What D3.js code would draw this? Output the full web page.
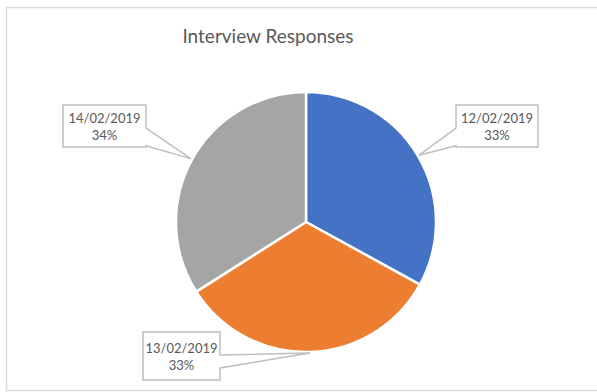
<!DOCTYPE html>
<html>
<head>
<meta charset="utf-8">
<script src="https://cdn.jsdelivr.net/npm/d3@7"></script>
<style>
  html, body { margin: 0; padding: 0; background: #ffffff; }
  svg { display: block; }
</style>
</head>
<body>
<svg id="chart" width="597" height="392"></svg>
<script>
// Interview responses per day
const categories = ["12/02/2019", "13/02/2019", "14/02/2019"];
const values = [33, 33, 34];
const colors = ["#4472C4", "#ED7D31", "#A5A5A5"];
const title = "Interview Responses";

const W = 597, H = 392;
const cx = 306, cy = 222, R = 130;

const svg = d3.select("#chart");

// chart frame
svg.append("rect")
  .attr("x", 6.5).attr("y", 7.5)
  .attr("width", 700).attr("height", 383)
  .attr("fill", "#ffffff")
  .attr("stroke", "#d9d9d9")
  .attr("stroke-width", 1.5);

svg.append("text")
  .attr("x", 268).attr("y", 43)
  .attr("text-anchor", "middle")
  .attr("font-family", "Lato, 'Open Sans', sans-serif")
  .attr("font-size", 19)
  .attr("fill", "#595959")
  .text(title);

const total = d3.sum(values);
const pct = d3.format(".0%");

const pie = d3.pie().sort(null).value(d => d.value);
const arcs = pie(categories.map((c, i) => ({ cat: c, value: values[i], color: colors[i] })));
const arc = d3.arc().innerRadius(0).outerRadius(R);

const g = svg.append("g").attr("transform", `translate(${cx},${cy})`);
g.selectAll("path")
  .data(arcs)
  .join("path")
  .attr("d", arc)
  .attr("fill", d => d.data.color)
  .attr("stroke", "#ffffff")
  .attr("stroke-width", 2.5)
  .attr("stroke-linejoin", "round");

// callout boxes: box geometry and the side the pointer leaves from
const callouts = [
  { box: [456, 105, 82, 42], side: "left",  base: [0.55, 0.97] },
  { box: [143, 332, 77, 48], side: "right", base: [0.48, 0.75] },
  { box: [63, 105, 83, 42],  side: "right", base: [0.55, 0.97] }
];

arcs.forEach((a, i) => {
  const c = callouts[i];
  const [bx, by, bw, bh] = c.box;
  const mid = (a.startAngle + a.endAngle) / 2;
  const tr = R + 1;
  const tx = cx + tr * Math.sin(mid);
  const ty = cy - tr * Math.cos(mid);
  const ya = by + bh * c.base[0], yb = by + bh * c.base[1];
  const p = d3.path();
  if (c.side === "right") {
    p.moveTo(bx, by);
    p.lineTo(bx + bw, by);
    p.lineTo(bx + bw, ya);
    p.lineTo(tx, ty);
    p.lineTo(bx + bw, yb);
    p.lineTo(bx + bw, by + bh);
    p.lineTo(bx, by + bh);
    p.closePath();
  } else {
    p.moveTo(bx + bw, by);
    p.lineTo(bx, by);
    p.lineTo(bx, ya);
    p.lineTo(tx, ty);
    p.lineTo(bx, yb);
    p.lineTo(bx, by + bh);
    p.lineTo(bx + bw, by + bh);
    p.closePath();
  }
  svg.append("path")
    .attr("d", p.toString())
    .attr("fill", "#ffffff")
    .attr("stroke", "#bfbfbf")
    .attr("stroke-width", 1.5)
    .attr("stroke-linejoin", "miter");

  const t = svg.append("text")
    .attr("text-anchor", "middle")
    .attr("font-family", "Lato, 'Open Sans', sans-serif")
    .attr("font-size", 13)
    .attr("fill", "#595959");
  t.append("tspan").attr("x", bx + bw / 2).attr("y", by + bh / 2 - 3).text(a.data.cat);
  t.append("tspan").attr("x", bx + bw / 2).attr("y", by + bh / 2 + 14).text(pct(a.data.value / total));
});
</script>
</body>
</html>
